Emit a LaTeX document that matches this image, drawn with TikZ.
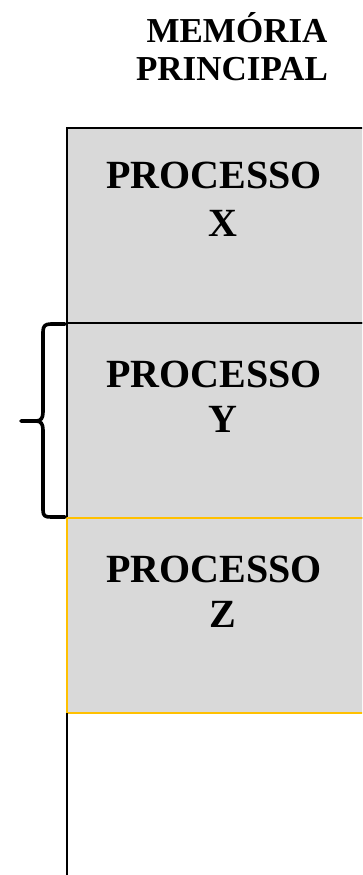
\documentclass[tikz,border=0pt]{standalone}
\usepackage{fontspec}
\setmainfont{Liberation Serif}
\definecolor{boxgray}{HTML}{D9D9D9}
\definecolor{zorange}{HTML}{FFC000}
\begin{document}
\begin{tikzpicture}[x=1pt,y=-1pt,
  membox/.style={draw=black,line width=1.6pt,fill=boxgray,inner sep=0pt,outer sep=0pt,minimum width=310pt,minimum height=195pt,anchor=north west},
  ptext/.style={font=\bfseries\fontsize{40}{48}\selectfont,anchor=base,inner sep=0pt},
  ttext/.style={font=\bfseries\fontsize{35}{38}\selectfont,anchor=base,inner sep=0pt},
  bracestyle/.style={line width=3.6pt,line cap=round,line join=round}]
\useasboundingbox (0,0) rectangle (362,875);
\clip (0,0) rectangle (362,875);
% title
\node[ttext] (t1) at (237,43) {MEMÓRIA};
\node[ttext] (t2) at (232,81) {PRINCIPAL};
% boxes
\node[membox] (bx) at (67,128) {};
\node[membox] (by) at (67,323) {};
\node[membox,draw=zorange] (bz) at (67,518) {};
% left line below
\coordinate (bottom) at (67,880);
\draw[line width=1.8pt] (bz.south west) -- (bottom);
% labels
\node[ptext] (px) at (214,188) {PROCESSO};
\node[ptext] (lx) at (223,236) {X};
\node[ptext] (py) at (214,387) {PROCESSO};
\node[ptext] (ly) at (223,432) {Y};
\node[ptext] (pz) at (214,582) {PROCESSO};
\node[ptext] (lz) at (223,627) {Z};
% brace
\draw[bracestyle] (65,324) -- (51,324) .. controls (45,324) and (43,326) .. (43,332)
  -- (43,412) .. controls (43,418) and (41,421) .. (36,421) -- (21,421);
\draw[bracestyle] (36,421) .. controls (41,421) and (43,424) .. (43,430)
  -- (43,510) .. controls (43,516) and (45,517) .. (51,517) -- (65,517);
\end{tikzpicture}
\end{document}
